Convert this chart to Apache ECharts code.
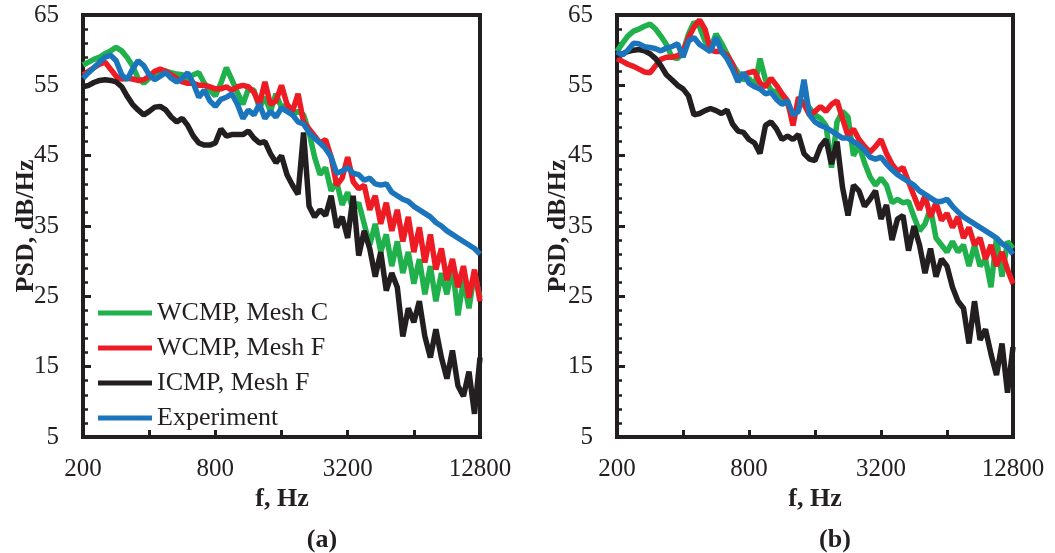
<!DOCTYPE html>
<html>
<head>
<meta charset="utf-8">
<script src="https://cdn.jsdelivr.net/npm/echarts@6/dist/echarts.min.js"></script>
<style>
html,body{margin:0;padding:0;background:#fff}
#wrap{position:relative;width:1055px;height:553px}
#plot,#over{position:absolute;left:0;top:0;width:1055px;height:553px}
</style>
</head>
<body>
<div id="wrap"><div id="plot"></div><div id="over"></div></div>
<script>
// Frequency grid (Hz)
const freq = [200,212,224,238,252,267,283,300,317,336,356,378,400,424,449,476,504,534,566,599,635,673,713,755,800,848,898,951,1008,1068,1131,1199,1270,1345,1425,1510,1600,1695,1796,1903,2016,2136,2263,2397,2540,2691,2851,3020,3200,3390,3592,3805,4032,4271,4525,4795,5080,5382,5702,6041,6400,6781,7184,7611,8063,8543,9051,9589,10159,10763,11404,12082,12800];
const xTickLabels = ['200','400','800','1600','3200','6400','12800'];
const seriesNames = ['WCMP, Mesh C','WCMP, Mesh F','ICMP, Mesh F','Experiment'];
const xTitle = 'f, Hz';
const yTitle = 'PSD, dB/Hz';
const panelLabels = ['(a)','(b)'];

// Panel (a)
const aMeshC = [57.9,58.3,58.7,59,59.5,59.9,60.4,59.9,59,57.8, 56,55.3,56,56.5,56.8,57,56.8,56.6,56.5,56, 56.5,56.8,55.3,54.3,53.5,55.3,57.5,55.8,54,52.3, 54.5,54.3,51.8,53.3,51.3,53.8,51.8,52.3,50.8,51.3, 50.8,48.3,44.8,42.3,43.3,40,41.3,38,39.8,37.3, 38.3,35.3,32.3,35.3,31.3,33.8,29.3,32.8,28.3,31.3, 26.8,30.3,25.3,29.3,24.3,28.3,25.3,29.3,22.3,27.3, 23.3,28.3,24.8];
const aMeshF = [56.5,57,57.5,58,58.3,57.3,56.3,55.9,56,55.9, 55.7,55.8,56.3,57,57.3,57,56.5,56,55.5,55.3, 55.3,55,55,54.8,54.5,54.5,54.8,54.3,54.8,55, 54.8,54,52.3,55.5,52.3,52.8,55,52.3,51.3,53.8, 49.8,48.8,47.8,46.8,47.3,44.8,40.8,41.8,44.8,41.3, 40.3,40.8,37.3,39.3,35.3,38.3,34.3,37.3,32.8,36.3, 31.3,34.8,29.8,33.8,28.8,31.8,27.3,30.3,26.3,29.3, 24.8,28.8,24.3];
const aICMP = [54.8,55,55.4,55.7,55.8,55.7,55.5,54.8,53.5,52.3, 51.5,50.8,51.3,51.9,52,51.5,50.5,49.8,50.3,49.3, 47.8,46.8,46.5,46.5,46.8,48.8,47.8,48,48,48, 48.5,47.5,46.8,47,45.3,44,45,42.3,40.8,39.5, 48.3,37.8,36.3,37.3,36.5,39.3,34.8,36.3,33.3,39.3, 30.8,34.3,31.8,27.8,31.3,25.8,28.3,26.3,19.3,23.3, 21.3,24.3,19.3,16.3,20.3,16.3,13.3,17.3,12.3,10.8, 14.3,8.3,16.3];
const aExp = [56,56.8,57.5,58.3,59,59.3,58.5,56.5,55.8,57.3, 58.5,57.8,56.5,55.8,56.3,56.8,56,55.5,56,56.8, 55.3,53.3,54.3,52.8,52,53,53.3,53.8,52.3,50.3, 51.5,50.8,52.3,50.3,51.3,50.5,51.8,51.3,50.8,49.8, 49.5,48.3,47.5,46.8,46,44.8,42.5,42.8,43.3,42.5, 42.3,41.5,41.8,41,40.8,41,39.8,39.3,38.8,38.5, 37.8,37.3,36.8,36.3,35.5,35,34.3,33.8,33.3,32.8, 32.3,31.8,31];

// Panel (b)
const bMeshC = [59.8,61,62,62.7,63,63.4,63.7,63,62,60.8, 59,58.8,59.8,62.3,64,63.3,61.3,60.3,62.3,61, 59.5,58,56.8,55.8,56,54.8,58.8,55.8,54.3,54, 53.3,52.3,50.8,51.8,52.8,51.8,50.8,50.3,49.3,43.3, 49.8,51.3,50.5,45,46.5,44,42,40.8,41.8,40.8, 38.3,38.8,38.3,38.5,36.3,34.3,35.3,37.5,33.3,32.3, 31.3,32.8,31.3,32.3,29.3,32.3,29.3,30.3,26.3,33.3, 27.8,32.8,31.8];
const bMeshF = [58.8,58.4,58,57.7,57.3,56.9,56.8,57.8,58.7,59, 59,59.2,59.8,61.8,63.3,64.3,63,60,59.8,59.8, 59.3,58,55.8,56.5,56.8,57,55.3,54.8,56,55, 53.8,52.8,49.3,53.3,52.3,50.8,51.3,52,51.3,52.3, 52.8,50.3,47.8,48.8,47.3,46.3,45.5,46.3,47.3,45.3, 43.8,42.8,43.3,41.3,39.3,37.3,39.3,36.3,38.3,35.8, 36.8,34.8,36.3,33.3,34.8,32.3,33.3,30.3,32.3,29.3, 31.3,28.8,26.8];
const bICMP = [59.3,59.5,59.8,60,60.1,59.9,59.5,58.8,57.8,56.5, 55.8,55,54.5,53.5,50.8,51,51.4,51.7,51.4,51, 51.5,49.5,48.5,48.3,47.3,46.8,45.3,49.3,49.8,48.8, 47.3,47.8,47.3,48,45.3,44.5,44.3,46.3,47.3,43.8, 47,40.5,36.5,40.8,40,37.8,38.8,40,36,38, 33,36,36.5,31.5,35,32.3,28.3,31.8,27.8,30.3, 29.3,26.3,24.3,23.3,18.3,24.3,18.8,20.3,16.8,13.8, 18.3,11.3,17.8];
const bExp = [59.8,59.3,60,61,60.9,60.5,60.4,60.2,59.9,60.3, 60.5,60.9,59,61.3,61.8,60.8,60.3,59.8,61.8,59.8, 58.8,57.3,55.5,56.8,55.3,54.8,54.5,53.8,54,53, 52.3,52.8,50.8,51.3,55.8,50.8,49.8,49.3,49,48.5, 48,47.5,47.5,47,46.5,45.8,44.8,44.5,44.8,43.8, 43,42.3,41.8,41.3,40.8,40,39.5,39,38.5,38.5, 38.8,37.8,37,36.3,35.8,35.3,34.8,34.3,33.8,33.3, 32.5,32,31];

const colors = ['#21b14c','#ed1c24','#231f20','#1b75bc'];
const FONT = "'Liberation Serif','Times New Roman',serif";
const INK = '#231f20';

const gridBoxes = [
  {left: 83, top: 15, width: 397, height: 422},
  {left: 617, top: 15, width: 396, height: 422}
];

// ---- Layer 1: frames, ticks, tick labels and data lines ----
const axX = [], axY = [];
[0,1].forEach(function(g){
  axX.push({gridIndex: g, type: 'log', logBase: 2, min: 200, max: 12800, show: false});
  axX.push({gridIndex: g, type: 'category', data: xTickLabels, boundaryGap: false, position: 'bottom',
    axisLine: {show: true, lineStyle: {color: INK, width: 4}},
    axisTick: {show: true, inside: true, length: 7, interval: 0, lineStyle: {color: INK, width: 3}},
    axisLabel: {interval: 1, margin: 20, fontSize: 25, fontFamily: FONT, color: INK}
  });
  axY.push({gridIndex: g, type: 'value', min: 5, max: 65, interval: 10,
    axisLine: {show: true, lineStyle: {color: INK, width: 4}},
    splitLine: {show: false},
    axisTick: {show: true, inside: true, length: 8, lineStyle: {color: INK, width: 3}},
    minorTick: {show: true, splitNumber: 5, length: 5, lineStyle: {color: INK, width: 2.5}},
    axisLabel: {margin: 24, fontSize: 25, fontFamily: FONT, color: INK}
  });
});

function mk(vals, name, idx, g) {
  return {
    type: 'line', name: name, xAxisIndex: g * 2, yAxisIndex: g,
    data: freq.map(function(f, i){ return [f, vals[i]]; }),
    showSymbol: false,
    lineStyle: {color: colors[idx], width: 5.5},
    itemStyle: {color: colors[idx]}
  };
}
const panelA = [aMeshC, aMeshF, aICMP, aExp];
const panelB = [bMeshC, bMeshF, bICMP, bExp];
const series = [];
panelA.forEach(function(v, i){ series.push(mk(v, seriesNames[i], i, 0)); });
panelB.forEach(function(v, i){ series.push(mk(v, seriesNames[i], i, 1)); });

const plotChart = echarts.init(document.getElementById('plot'));
plotChart.setOption({
  animation: false,
  grid: gridBoxes.map(function(b){ return Object.assign({show: true, borderWidth: 4, borderColor: INK}, b); }),
  xAxis: axX,
  yAxis: axY,
  series: series
});

// ---- Layer 2: legend and titles ----
function txt(s, x, y, rot) {
  return {type: 'text', x: x, y: y, rotation: rot || 0, silent: true,
    style: {text: s, fontSize: 26, fontWeight: 'bold', fontFamily: FONT, fill: INK, align: 'center', verticalAlign: 'middle'}};
}
const overChart = echarts.init(document.getElementById('over'));
overChart.setOption({
  animation: false,
  backgroundColor: 'transparent',
  legend: {
    orient: 'vertical', left: 98, top: 300, padding: 0,
    itemWidth: 54, itemHeight: 5, itemGap: 9, icon: 'rect',
    data: seriesNames,
    textStyle: {fontSize: 26, fontFamily: FONT, color: INK, lineHeight: 26}
  },
  grid: [Object.assign({show: false}, gridBoxes[0])],
  xAxis: [{gridIndex: 0, type: 'log', logBase: 2, min: 200, max: 12800, show: false}],
  yAxis: [{gridIndex: 0, type: 'value', min: 5, max: 65, show: false}],
  series: seriesNames.map(function(n, i){
    return {type: 'line', name: n, data: [], showSymbol: false, lineStyle: {color: colors[i], width: 5.5}, itemStyle: {color: colors[i]}};
  }),
  graphic: [
    txt(yTitle, 26, 226, Math.PI / 2),
    txt(yTitle, 558, 226, Math.PI / 2),
    txt(xTitle, 282, 499),
    txt(xTitle, 815, 499),
    txt(panelLabels[0], 322, 540),
    txt(panelLabels[1], 835, 540)
  ]
});
</script>
</body>
</html>
